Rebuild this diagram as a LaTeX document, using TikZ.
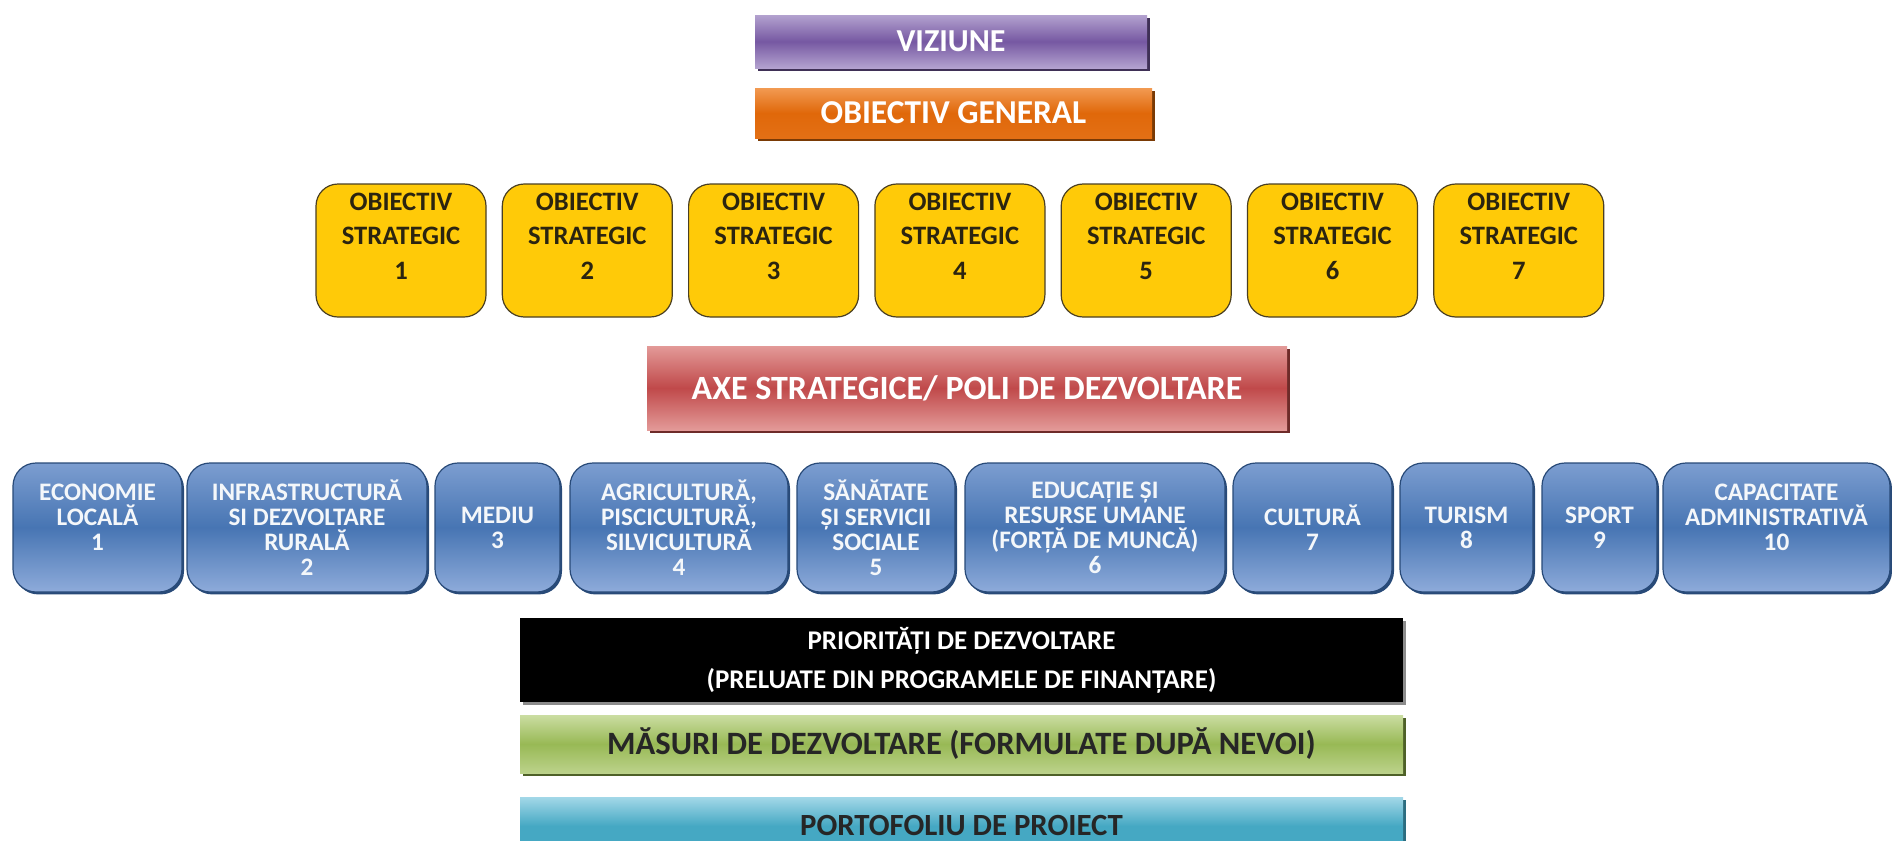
\documentclass[tikz,border=0pt]{standalone}
\usepackage{fontspec}
\setmainfont{Carlito}
\usetikzlibrary{shadows}

\definecolor{vizpurple}{HTML}{7658A2}
\definecolor{vizlight}{HTML}{B3A2CF}
\definecolor{vizdark}{HTML}{3F3056}
\definecolor{genorange}{HTML}{E0680A}
\definecolor{genlight}{HTML}{F29A52}
\definecolor{gendark}{HTML}{7A3A05}
\definecolor{objyellow}{HTML}{FFCA08}
\definecolor{objedge}{HTML}{4A3F22}
\definecolor{objtext}{HTML}{2B2410}
\definecolor{axered}{HTML}{C0494A}
\definecolor{axelight}{HTML}{E39A98}
\definecolor{axedark}{HTML}{6E2B29}
\definecolor{polblue}{HTML}{4775B3}
\definecolor{pollight}{HTML}{8EABDA}
\definecolor{poledge}{HTML}{284A78}
\definecolor{masgreen}{HTML}{98B955}
\definecolor{maslight}{HTML}{CBDDA2}
\definecolor{masdark}{HTML}{4E6128}
\definecolor{portcyan}{HTML}{45A8C3}
\definecolor{portlight}{HTML}{A3D8E8}
\definecolor{portdark}{HTML}{2C6D80}

\begin{document}
\begin{tikzpicture}[x=0.5pt,y=-0.5pt]
   \useasboundingbox (0,0) rectangle (1892,841);
   \bfseries
   \tikzstyle{bar}=[rectangle, align=center, inner sep=0pt]
   \tikzstyle{obj}=[rectangle, rounded corners=11pt, draw=objedge, line width=0.6pt, fill=objyellow,
      minimum width=85pt, minimum height=66.5pt, inner sep=0pt, text depth=14.5pt,
      align=center, text=objtext, font=\fontsize{13.3}{17.25}\selectfont]
   \tikzstyle{pole}=[rectangle, rounded corners=11.5pt, draw=poledge, line width=0.6pt,
      top color=pollight!75!polblue, bottom color=pollight, middle color=polblue,
      drop shadow={shadow xshift=1pt, shadow yshift=-1.2pt, opacity=1, fill=poledge},
      minimum height=64.5pt, align=center, text=white!94!polblue, inner sep=0pt,
      font=\fontsize{12.6}{12.5}\selectfont]
   \node[bar, minimum width=196pt, minimum height=26.5pt, text=white,
      top color=vizlight, bottom color=vizlight, middle color=vizpurple,
      drop shadow={shadow xshift=1.5pt, shadow yshift=-1.5pt, opacity=1, fill=vizdark},
      font=\fontsize{16}{18}\selectfont] (viziune) at (951,41.5) {VIZIUNE};
   \node[bar, minimum width=198.5pt, minimum height=25pt, text=white,
      top color=genlight, bottom color=genorange!85!genlight, middle color=genorange,
      drop shadow={shadow xshift=1.5pt, shadow yshift=-1.5pt, opacity=1, fill=gendark},
      font=\fontsize{16.7}{18}\selectfont] (general) at (953.5,113) {OBIECTIV GENERAL};
   \foreach \i in {1,...,7} {
       \node[obj] (os\i) at (401+186.3*\i-186.3,250.5) {OBIECTIV\\STRATEGIC\\\i};
   }
   \node[bar, minimum width=320pt, minimum height=42pt, text=white,
      top color=axelight, bottom color=axelight, middle color=axered,
      drop shadow={shadow xshift=1.5pt, shadow yshift=-1.5pt, opacity=1, fill=axedark},
      font=\fontsize{17}{20}\selectfont] (axe) at (967,388) {AXE STRATEGICE/ POLI DE DEZVOLTARE};
   \foreach \i/\x/\w/\txt in {1/97.5/84.5/{ECONOMIE\\LOCALĂ\\1\\[-6pt]\strut},
         2/307/120/{INFRASTRUCTURĂ\\SI DEZVOLTARE\\RURALĂ\\2},
         3/497.5/62.5/{MEDIU\\3},
         4/679/109/{AGRICULTURĂ,\\PISCICULTURĂ,\\SILVICULTURĂ\\4},
         5/876/79/{SĂNĂTATE\\ȘI SERVICII\\SOCIALE\\5},
         6/1095/130/{EDUCAȚIE ȘI\\RESURSE UMANE\\(FORȚĂ DE MUNCĂ)\\6},
         7/1312.5/79.5/{CULTURĂ\\7},
         8/1466.5/66.5/{TURISM\\8},
         9/1599.5/57.5/{SPORT\\9},
         10/1776.5/113.5/{CAPACITATE\\ADMINISTRATIVĂ\\10\\[-6pt]\strut}} {
       \node[pole, minimum width=\w pt] (p\i) at (\x,527.5) {\txt};
   }
   \node[bar, minimum width=441.5pt, minimum height=42pt, fill=black, text=white,
      drop shadow={shadow xshift=1.5pt, shadow yshift=-1.5pt, opacity=1, fill=black!45},
      font=\fontsize{13.5}{19.5}\selectfont] (prioritati) at (961.5,660)
      {PRIORITĂȚI DE DEZVOLTARE\\(PRELUATE DIN PROGRAMELE DE FINANȚARE)};
   \node[bar, minimum width=441.5pt, minimum height=29pt, text=black!85,
      top color=maslight, bottom color=maslight!70!masgreen, middle color=masgreen,
      drop shadow={shadow xshift=1.5pt, shadow yshift=-1.5pt, opacity=1, fill=masdark},
      font=\fontsize{16.3}{18}\selectfont] (masuri) at (961.5,744)
      {MĂSURI DE DEZVOLTARE (FORMULATE DUPĂ NEVOI)};
   \node[bar, minimum width=441.5pt, minimum height=29pt, text=black!85,
      top color=portlight, bottom color=portcyan, middle color=portcyan,
      drop shadow={shadow xshift=1.5pt, shadow yshift=-1.5pt, opacity=1, fill=portdark},
      font=\fontsize{15.4}{18}\selectfont] (portofoliu) at (961.5,826) {PORTOFOLIU DE PROIECT};
\end{tikzpicture}
\end{document}
